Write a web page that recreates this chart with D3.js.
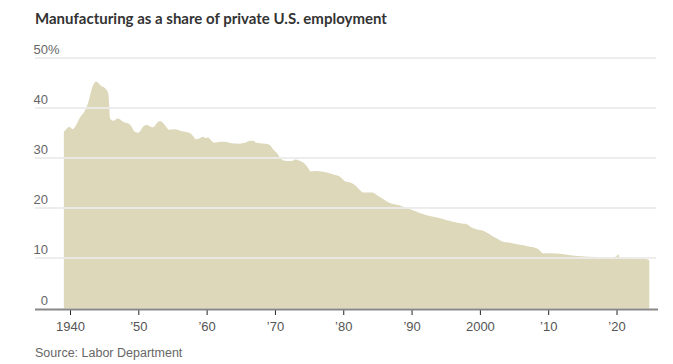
<!DOCTYPE html>
<html><head><meta charset="utf-8">
<script src="https://cdn.jsdelivr.net/npm/d3@7"></script>
<style>
html,body{margin:0;padding:0;background:#fff;}
svg{display:block;}
</style></head>
<body>
<script>
const title = "Manufacturing as a share of private U.S. employment";
const source = "Source: Labor Department";
const years = [1939.1,1939.5,1939.9,1940.4,1940.7,1941.4,1942.2,1942.7,1943.3,1943.8,1944.1,1944.4,1945.1,1945.6,1945.75,1945.85,1946.3,1946.6,1946.9,1947.8,1948.8,1949.5,1950.0,1950.7,1951.2,1952.0,1952.3,1952.9,1953.3,1953.9,1954.5,1955.4,1956.1,1956.8,1957.6,1958.1,1958.4,1959.0,1959.5,1959.9,1960.2,1960.7,1961.1,1962.0,1962.7,1963.7,1964.6,1965.6,1966.4,1966.8,1967.3,1967.8,1968.6,1969.2,1969.8,1970.5,1970.8,1971.7,1972.5,1972.9,1973.7,1974.4,1974.9,1975.2,1975.9,1976.9,1977.6,1978.1,1978.8,1979.5,1980.3,1981.0,1981.7,1982.5,1982.9,1984.3,1984.9,1985.6,1986.4,1987.3,1988.3,1989.3,1990.3,1991.2,1992.2,1993.2,1994.2,1995.2,1996.1,1997.1,1998.1,1998.6,1999.5,2000.5,2001.2,2002.0,2002.7,2003.4,2004.4,2005.4,2006.4,2007.3,2008.3,2008.8,2009.2,2010.3,2011.7,2013.9,2015.9,2018.3,2019.9,2020.25,2020.4,2020.6,2021.7,2023.7,2024.5,2024.8];
const shares = [35.2,35.8,36.2,35.7,36.1,37.9,39.5,41.2,44.2,45.2,45.0,44.5,43.9,42.9,40.2,37.9,37.4,37.5,37.9,37.2,36.6,35.2,35.0,36.2,36.6,36.1,36.2,37.2,37.3,36.5,35.6,35.7,35.4,35.2,34.9,34.2,33.7,33.9,34.2,33.9,34.1,33.4,33.0,33.2,33.2,32.9,32.8,33.0,33.4,33.4,33.0,32.9,32.8,32.6,31.6,30.6,29.9,29.4,29.4,29.7,29.4,28.8,27.9,27.3,27.4,27.3,27.1,26.9,26.6,26.3,25.3,25.1,24.6,23.5,23.1,23.1,22.6,22.0,21.3,20.8,20.5,20.0,19.5,19.0,18.6,18.3,18.0,17.6,17.3,17.0,16.8,16.3,15.8,15.5,15.0,14.3,13.8,13.3,13.1,12.8,12.6,12.3,12.0,11.5,11.0,11.0,10.9,10.5,10.3,10.2,10.3,10.8,10.3,10.2,10.0,9.9,9.8,9.6];
const yTicks = [0,10,20,30,40,50];
const xTicks = [1940,1950,1960,1970,1980,1990,2000,2010,2020];
const xTickLabels = ["1940","\u201950","\u201960","\u201970","\u201980","\u201990","2000","\u201910","\u201920"];

const W = 673, H = 364;
const svg = d3.select("body").append("svg").attr("width", W).attr("height", H);
const x = d3.scaleLinear().domain([1940, 2020]).range([70, 616.5]);
const y = d3.scaleLinear().domain([0, 50]).range([308.5, 57.5]);
const data = years.map((yr, i) => ({yr, v: shares[i]}));

svg.append("path").datum(data)
  .attr("fill", "#ddd8b9")
  .attr("d", d3.area().x(d => x(d.yr)).y0(y(0)).y1(d => y(d.v)).curve(d3.curveMonotoneX));

// gridlines
svg.append("g").selectAll("line").data(yTicks.filter(t => t > 0)).join("line")
  .attr("x1", 35).attr("x2", 656)
  .attr("y1", d => Math.round(y(d))).attr("y2", d => Math.round(y(d)))
  .attr("stroke", "#ebebeb").attr("stroke-opacity", 0.9).attr("stroke-width", 2);

// y labels
const lab = svg.append("g").attr("font-family", "'Liberation Sans Narrow', 'Arial Narrow', sans-serif")
  .attr("font-size", 13).attr("fill", "#666");
lab.selectAll("text").data(yTicks).join("text")
  .attr("x", 48).attr("y", d => y(d) - 4).attr("text-anchor", "end")
  .text(d => d);
lab.append("text").attr("x", 48).attr("y", y(50) - 4).text("%");

// x axis
const xAxis = d3.axisBottom(x).tickValues(xTicks).tickFormat((d, i) => xTickLabels[i]).tickSize(5).tickPadding(7);
const gx = svg.append("g").attr("transform", `translate(0,${310})`).call(xAxis);
gx.select(".domain").remove();
gx.selectAll(".tick line").attr("stroke", "#222");
gx.selectAll(".tick text").attr("font-family", "'Liberation Sans Narrow', 'Arial Narrow', sans-serif")
  .attr("font-size", 13).attr("fill", "#555");
svg.append("line").attr("x1", 35).attr("x2", 658).attr("y1", 309.5).attr("y2", 309.5)
  .attr("stroke", "#888").attr("stroke-width", 2);

svg.append("text").attr("x", 35).attr("y", 24)
  .attr("font-family", "Lato, sans-serif").attr("font-weight", "bold").attr("font-size", 15)
  .attr("fill", "#333").text(title);

svg.append("text").attr("x", 35).attr("y", 357)
  .attr("font-family", "'Liberation Sans Narrow', 'Arial Narrow', sans-serif").attr("font-size", 12.5)
  .attr("fill", "#666").text(source);
</script>
</body></html>
